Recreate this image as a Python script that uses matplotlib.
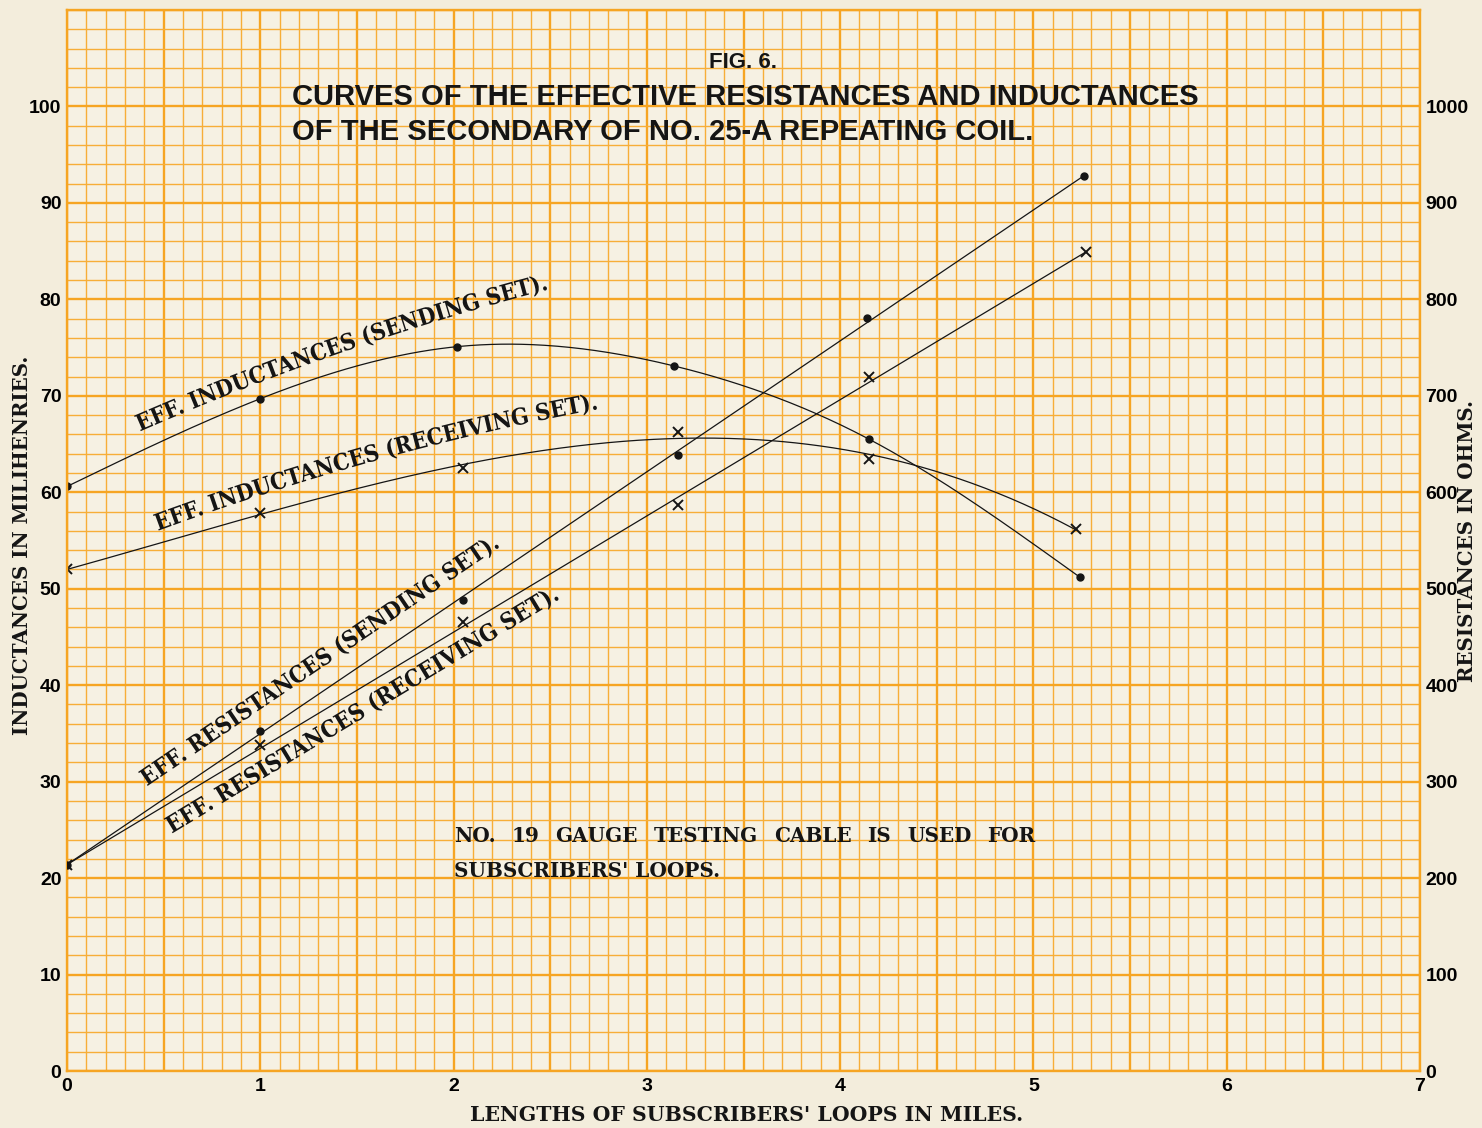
import numpy as np
import matplotlib
matplotlib.use('Agg')
import matplotlib.pyplot as plt
from matplotlib.textpath import TextPath
from matplotlib.font_manager import FontProperties
from matplotlib.patches import PathPatch
from matplotlib.path import Path
from matplotlib.transforms import IdentityTransform
from matplotlib.ticker import MultipleLocator, FuncFormatter

# loop lengths (miles) and values
ind_send_x = [0.0, 1.0, 2.02, 3.14, 4.15, 5.24]
ind_send_y = [60.6, 69.7, 75.1, 73.1, 65.5, 51.2]      # millihenries
ind_recv_x = [0.0, 1.0, 2.05, 3.16, 4.15, 5.22]
ind_recv_y = [52.0, 57.8, 62.5, 66.2, 63.5, 56.2]
res_send_x = [0.0, 1.0, 2.05, 3.16, 4.14, 5.26]
res_send_y = [214, 352, 488, 639, 781, 928]            # ohms
res_recv_x = [0.0, 1.0, 2.05, 3.16, 4.15, 5.27]
res_recv_y = [214, 338, 466, 587, 720, 849]

x_ticks = [0, 1, 2, 3, 4, 5, 6, 7]
ind_ticks = list(range(0, 101, 10))
res_ticks = list(range(0, 1001, 100))

PAPER = '#F3EDDC'
GRID = '#F6A523'
INK = '#151515'
NARROW = ['Liberation Sans Narrow', 'Liberation Sans', 'DejaVu Sans']
SERIF_B = FontProperties(family='DejaVu Serif', weight='bold')


def natural_spline(x, y, xs):
    x = np.asarray(x, float); y = np.asarray(y, float)
    n = len(x); h = np.diff(x)
    A = np.zeros((n, n)); r = np.zeros(n)
    A[0, 0] = A[-1, -1] = 1
    for i in range(1, n - 1):
        A[i, i - 1] = h[i - 1]; A[i, i] = 2 * (h[i - 1] + h[i]); A[i, i + 1] = h[i]
        r[i] = 3 * ((y[i + 1] - y[i]) / h[i] - (y[i] - y[i - 1]) / h[i - 1])
    c = np.linalg.solve(A, r)
    b = (y[1:] - y[:-1]) / h - h * (2 * c[:-1] + c[1:]) / 3
    d = (c[1:] - c[:-1]) / (3 * h)
    idx = np.clip(np.searchsorted(x, xs) - 1, 0, n - 2)
    dx = xs - x[idx]
    return y[idx] + b[idx] * dx + c[idx] * dx ** 2 + d[idx] * dx ** 3


def path_text(ax, s, pts, prop=SERIF_B, tall=1.12):
    # lay text along a parabola through the given (data) points, fitted to their length
    disp = ax.transData.transform(pts)
    if len(disp) == 2:
        disp = np.array([disp[0], disp.mean(axis=0), disp[1]])
    A, B, C = disp
    t = np.linspace(-0.3, 1.8, 3000)
    L0 = 2 * (t - 0.5) * (t - 1); L1 = -4 * t * (t - 1); L2 = 2 * t * (t - 0.5)
    P = np.outer(L0, A) + np.outer(L1, B) + np.outer(L2, C)
    arc = np.concatenate([[0], np.cumsum(np.hypot(*np.diff(P, axis=0).T))])
    arc = arc - np.interp(0, t, arc)
    span = np.interp(1, t, arc)
    tp = TextPath((0, 0), s, size=100, prop=prop)
    scale = span / tp.get_extents().x1
    u = tp.vertices[:, 0] * scale
    v = tp.vertices[:, 1] * scale * tall
    T = np.gradient(P, axis=0)
    T = T / np.hypot(T[:, 0], T[:, 1])[:, None]
    px = np.interp(u, arc, P[:, 0]); py = np.interp(u, arc, P[:, 1])
    tx = np.interp(u, arc, T[:, 0]); ty = np.interp(u, arc, T[:, 1])
    new = np.column_stack([px - v * ty, py + v * tx])
    ax.add_artist(PathPatch(Path(new, tp.codes), transform=IdentityTransform(),
                            fc=INK, ec='none', clip_on=False, zorder=6))


def justified(ax, words, x0, x1, y, size):
    # spread words evenly between two x positions (data units)
    r = ax.figure.canvas.get_renderer()
    arts = [ax.text(x0, y, w, fontproperties=SERIF_B, fontsize=size,
                    va='center', ha='left', color=INK) for w in words]
    widths = [a.get_window_extent(r).width for a in arts]
    p0, p1 = ax.transData.transform([(x0, y), (x1, y)])[:, 0]
    gap = (p1 - p0 - sum(widths)) / (len(words) - 1)
    pos = p0
    inv = ax.transData.inverted()
    for a, w in zip(arts, widths):
        a.set_x(inv.transform((pos, 0))[0])
        pos += w + gap


fig = plt.figure(figsize=(14.82, 11.28), dpi=100, facecolor=PAPER)
ax = fig.add_axes([67 / 1482, 57 / 1128, 1353 / 1482, 1061 / 1128])
ax.set_facecolor('#F6F1E3')
ax.set_xlim(0, 7)
ax.set_ylim(0, 110)

ax.xaxis.set_major_locator(MultipleLocator(0.5))
ax.xaxis.set_minor_locator(MultipleLocator(0.1))
ax.yaxis.set_major_locator(MultipleLocator(10))
ax.yaxis.set_minor_locator(MultipleLocator(2))
ax.xaxis.set_major_formatter(FuncFormatter(lambda v, p: f'{int(v)}' if v in x_ticks else ''))
ax.yaxis.set_major_formatter(FuncFormatter(lambda v, p: f'{int(v)}' if v in ind_ticks else ''))
ax.grid(which='major', color=GRID, lw=1.7)
ax.grid(which='minor', color='#F7AE38', lw=1.0)
ax.set_axisbelow(True)
ax.tick_params(which='both', length=0)
ax.tick_params(axis='x', pad=5)
ax.tick_params(axis='y', pad=4)
for lab in ax.get_xticklabels() + ax.get_yticklabels():
    lab.set_family(NARROW); lab.set_weight('bold'); lab.set_fontsize(14)
for sp in ax.spines.values():
    sp.set_color(GRID); sp.set_linewidth(1.7)

ax2 = ax.twinx()
ax2.set_ylim(0, 1100)
ax2.set_yticks(res_ticks)
ax2.tick_params(length=0, pad=4)
for lab in ax2.get_yticklabels():
    lab.set_family(NARROW); lab.set_weight('bold'); lab.set_fontsize(14)
for sp in ax2.spines.values():
    sp.set_visible(False)

# inductance curves
xs = np.linspace(ind_send_x[0], ind_send_x[-1], 400)
ax.plot(xs, natural_spline(ind_send_x, ind_send_y, xs), color=INK, lw=0.9)
ax.plot(ind_send_x, ind_send_y, 'o', color=INK, ms=5)
xs = np.linspace(ind_recv_x[0], ind_recv_x[-1], 400)
ax.plot(xs, np.polyval(np.polyfit(ind_recv_x, ind_recv_y, 3), xs), color=INK, lw=0.9)
ax.plot(ind_recv_x, ind_recv_y, 'x', color=INK, ms=7, mew=1.4)

# resistance lines
ax2.plot([res_send_x[0], res_send_x[-1]], [res_send_y[0], res_send_y[-1]], color=INK, lw=0.9)
ax2.plot(res_send_x, res_send_y, 'o', color=INK, ms=5)
ax2.plot([res_recv_x[0], res_recv_x[-1]], [res_recv_y[0], res_recv_y[-1]], color=INK, lw=0.9)
ax2.plot(res_recv_x, res_recv_y, 'x', color=INK, ms=7, mew=1.4)

# labels along the curves
path_text(ax, 'EFF. INDUCTANCES (SENDING SET).', [(0.377, 66.3), (1.436, 74.6), (2.485, 81.0)])
path_text(ax, 'EFF. INDUCTANCES (RECEIVING SET).', [(0.47, 56.0), (1.617, 63.4), (2.743, 68.6)])
path_text(ax, 'EFF. RESISTANCES (SENDING SET).', [(0.413, 29.5), (2.237, 54.3)])
path_text(ax, 'EFF. RESISTANCES (RECEIVING SET).', [(0.542, 24.6), (2.546, 48.9)])

justified(ax, 'NO. 19 GAUGE TESTING CABLE IS USED FOR'.split(), 2.004, 5.01, 24.4, 14.4)
ax.text(2.004, 20.7, "SUBSCRIBERS' LOOPS.", fontproperties=SERIF_B,
        fontsize=14.4, va='center', ha='left', color=INK)

fig.text(743 / 1482, 1 - 62 / 1128, 'FIG. 6.', family=['Liberation Sans', 'DejaVu Sans'],
         weight='bold', fontsize=16, ha='center', va='center', color=INK)
fig.text(292 / 1482, 1 - 97 / 1128, 'CURVES OF THE EFFECTIVE RESISTANCES AND INDUCTANCES',
         family=['Liberation Sans', 'DejaVu Sans'], weight='bold', fontsize=21,
         ha='left', va='center', color=INK)
fig.text(292 / 1482, 1 - 132 / 1128, 'OF THE SECONDARY OF NO. 25-A REPEATING COIL.',
         family=['Liberation Sans', 'DejaVu Sans'], weight='bold', fontsize=21,
         ha='left', va='center', color=INK)

fig.text(22 / 1482, 1 - 545 / 1128, 'INDUCTANCES IN MILIHENRIES.', fontproperties=SERIF_B,
         fontsize=14.3, rotation=90, ha='center', va='center', color=INK)
fig.text(1467 / 1482, 1 - 541 / 1128, 'RESISTANCES IN OHMS.', fontproperties=SERIF_B,
         fontsize=14.3, rotation=90, ha='center', va='center', color=INK)
fig.text(747 / 1482, 1 - 1115 / 1128, "LENGTHS OF SUBSCRIBERS' LOOPS IN MILES.",
         fontproperties=SERIF_B, fontsize=14.7, ha='center', va='center', color=INK)

fig.savefig('out.png', dpi=100, facecolor=PAPER)
